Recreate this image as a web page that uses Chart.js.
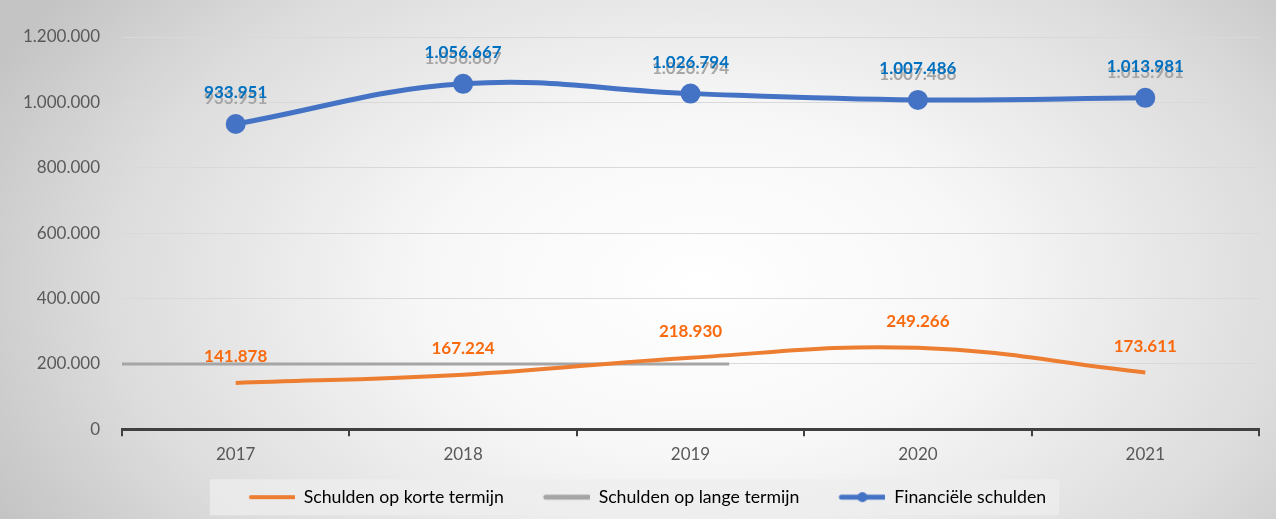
<!DOCTYPE html>
<html>
<head>
<meta charset="utf-8">
<script src="https://cdn.jsdelivr.net/npm/chart.js@4.4.1/dist/chart.umd.min.js"></script>
<style>
  html, body { margin: 0; padding: 0; }
  #wrap {
    width: 1276px;
    height: 519px;
    position: relative;
    background: radial-gradient(ellipse 62% 95% at 55% 55%, #ffffff 0%, #f7f7f7 35%, #dcdcdc 75%, #c4c4c4 100%);
  }
</style>
</head>
<body>
<div id="wrap"><canvas id="chart"></canvas></div>
<script>
const years = ["2017", "2018", "2019", "2020", "2021"];
const korteTermijn = [141878, 167224, 218930, 249266, 173611];
const langeTermijnLabels = [933951, 1056667, 1026794, 1007486, 1013981];
const financieleSchulden = [933951, 1056667, 1026794, 1007486, 1013981];
// grey "lange termijn" segment as it appears in the picture (category index units)
const langeLijnX = [-0.5, 2.17];
const langeLijnY = [200000, 200000];
const yMax = 1200000;
const yStep = 200000;

const fmt = v => String(v).replace(/\B(?=(\d{3})+(?!\d))/g, ".");

function swatch(color, width, dot) {
	const c = document.createElement("canvas");
	c.width = 76;
	c.height = 14;
	const g = c.getContext("2d");
	g.strokeStyle = color;
	g.lineWidth = width;
	g.lineCap = "round";
	g.beginPath();
	g.moveTo(32, 7);
	g.lineTo(75, 7);
	g.stroke();
	if (dot) {
		g.fillStyle = color;
		g.beginPath();
		g.arc(53, 7, 5, 0, Math.PI * 2);
		g.fill();
	}
	return c;
}

const legendItems = [
	{ text: "Schulden op korte termijn", pointStyle: swatch("#ED7D31", 4, false) },
	{ text: "Schulden op lange termijn", pointStyle: swatch("#A5A5A5", 5, false) },
	{ text: "Financiële schulden", pointStyle: swatch("#4472C4", 5, true) },
];

const valueLabels = {
	id: "valueLabels",
	afterDatasetsDraw(chart) {
		const ctx = chart.ctx;
		ctx.save();
		ctx.font = "bold 17px Lato";
		ctx.textAlign = "center";
		ctx.textBaseline = "middle";
		chart.getDatasetMeta(1).data.forEach((p, i) => {
			ctx.fillStyle = "#A6A6A6";
			ctx.fillText(fmt(langeTermijnLabels[i]), p.x, p.y - 25);
		});
		chart.getDatasetMeta(3).data.forEach((p, i) => {
			ctx.fillStyle = "#0070C0";
			ctx.fillText(fmt(financieleSchulden[i]), p.x, p.y - 31);
		});
		chart.getDatasetMeta(0).data.forEach((p, i) => {
			ctx.fillStyle = "#F96A0E";
			ctx.fillText(fmt(korteTermijn[i]), p.x, p.y - 26);
		});
		ctx.restore();
	},
};

// nudges the legend a bit to the right (as in the picture) and paints its box
const legendBox = {
	id: "legendBox",
	afterUpdate(chart) {
		const l = chart.legend;
		if (!l) return;
		const pad = l.options.labels.padding;
		l.legendHitBoxes.forEach(h => { h.top -= l.top + pad; });
		l.left += 6;
		l.adjustHitBoxes();
	},
	beforeDraw(chart) {
		const l = chart.legend;
		const boxes = l && l.legendHitBoxes;
		if (!boxes || !boxes.length) return;
		const left = boxes[0].left + 32 - 41;
		const last = boxes[boxes.length - 1];
		const right = last.left + last.width + 13;
		const cy = l.top + l.options.labels.padding + 9;
		const ctx = chart.ctx;
		ctx.save();
		ctx.fillStyle = "rgba(238, 238, 238, 0.75)";
		ctx.fillRect(left, cy - 18, right - left, 36);
		ctx.restore();
	},
};

const ctx = document.getElementById("chart").getContext("2d");
new Chart(ctx, {
	type: "line",
	data: {
		labels: years,
		datasets: [
			{
				label: "Schulden op korte termijn",
				data: korteTermijn,
				borderColor: "#ED7D31",
				borderWidth: 4,
				pointRadius: 0,
				tension: 0.4,
				order: 1,
			},
			{
				label: "Schulden op lange termijn",
				data: langeTermijnLabels,
				showLine: false,
				pointRadius: 0,
				order: 4,
			},
			{
				label: "Schulden op lange termijn (lijn)",
				xAxisID: "x2",
				data: langeLijnX.map((x, i) => ({ x: x, y: langeLijnY[i] })),
				borderColor: "#A5A5A5",
				borderWidth: 3,
				pointRadius: 0,
				borderCapStyle: "butt",
				order: 2,
			},
			{
				label: "Financiële schulden",
				data: financieleSchulden,
				borderColor: "#4472C4",
				backgroundColor: "#4472C4",
				borderWidth: 5,
				pointRadius: 10,
				pointBorderWidth: 0,
				pointBackgroundColor: "#4472C4",
				tension: 0.4,
				order: 0,
			},
		],
	},
	options: {
		responsive: true,
		maintainAspectRatio: false,
		animation: false,
		layout: { padding: { left: 0, right: 17, top: 37, bottom: 3 } },
		plugins: {
			tooltip: { enabled: false },
			legend: {
				display: true,
				position: "bottom",
				labels: {
					usePointStyle: true,
					pointStyleWidth: 76,
					padding: 10,
					color: "#595959",
					font: { family: "Lato", size: 17.7 },
					generateLabels: () =>
						legendItems.map((it, i) => ({
							text: it.text,
							pointStyle: it.pointStyle,
							fillStyle: "transparent",
							strokeStyle: "transparent",
							lineWidth: 0,
							hidden: false,
							datasetIndex: i,
						})),
				},
			},
		},
		scales: {
			x: {
				type: "category",
				offset: true,
				afterFit: scale => { scale.height = 49; },
				grid: {
					display: true,
					offset: true,
					drawOnChartArea: false,
					drawTicks: true,
					tickLength: 7,
					color: "#404040",
					lineWidth: 2,
				},
				border: { display: true, color: "#404040", width: 3 },
				ticks: { color: "#595959", padding: 8, font: { family: "Lato", size: 17 } },
			},
			x2: {
				type: "linear",
				display: false,
				min: -0.5,
				max: 4.5,
			},
			y: {
				min: 0,
				max: yMax,
				afterFit: scale => { scale.width = 122; },
				border: { display: false },
				grid: { color: "#D9D9D9", lineWidth: 1, drawTicks: false },
				ticks: {
					stepSize: yStep,
					padding: 22,
					color: "#595959",
					font: { family: "Lato", size: 17 },
					callback: v => fmt(v),
				},
			},
		},
	},
	plugins: [legendBox, valueLabels],
});
</script>
</body>
</html>
